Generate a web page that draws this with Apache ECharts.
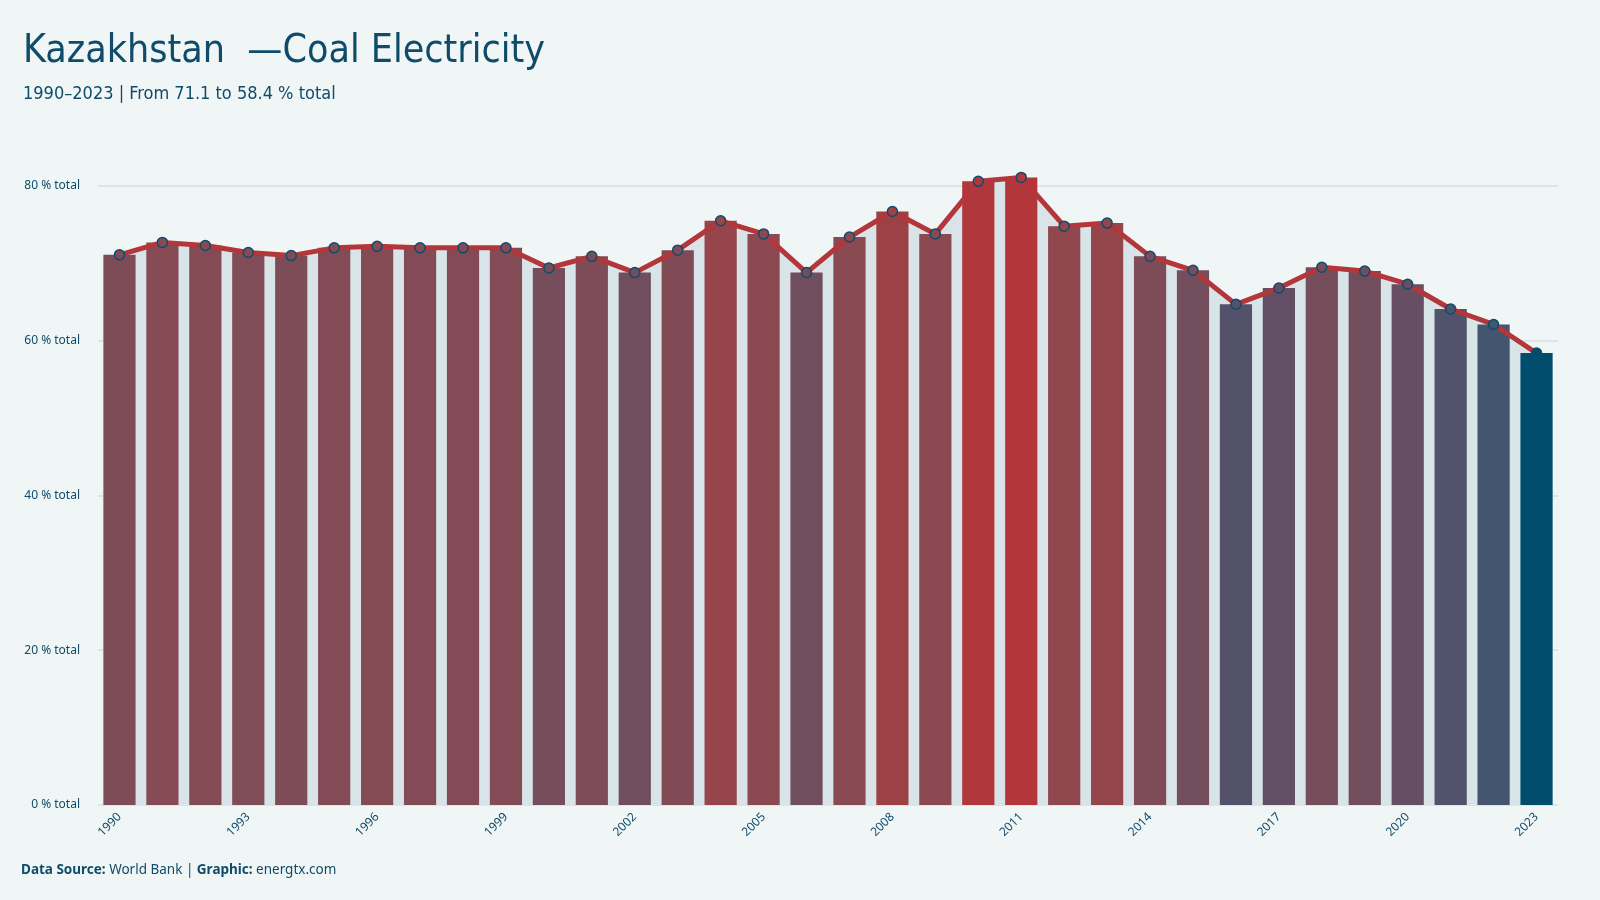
<!DOCTYPE html>
<html>
<head>
<meta charset="utf-8">
<title>Kazakhstan — Coal Electricity</title>
<script src="https://cdn.jsdelivr.net/npm/echarts@6/dist/echarts.min.js"></script>
<style>
  html, body { margin: 0; padding: 0; background: #f0f5f5; }
  #chart { width: 1600px; height: 900px; }
</style>
</head>
<body>
<div id="chart"></div>
<script>
// data
const years = ['1990', '1991', '1992', '1993', '1994', '1995', '1996', '1997', '1998', '1999',
    '2000', '2001', '2002', '2003', '2004', '2005', '2006', '2007', '2008', '2009',
    '2010', '2011', '2012', '2013', '2014', '2015', '2016', '2017', '2018', '2019',
    '2020', '2021', '2022', '2023'];
const coalShare = [71.1, 72.7, 72.3, 71.4, 71.0, 72.0, 72.2, 72.0, 72.0, 72.0,
    69.4, 70.9, 68.8, 71.7, 75.5, 73.8, 68.8, 73.4, 76.7, 73.8,
    80.6, 81.1, 74.8, 75.2, 70.9, 69.1, 64.7, 66.8, 69.5, 69.0,
    67.3, 64.1, 62.1, 58.4];
const yTicks = [0, 20, 40, 60, 80];

// colour ramp: low value -> blue, high value -> red
const ramp = ['#004c6d', '#45556f', '#5c5068', '#784d5a', '#8a4a52', '#a04145', '#b3363a'];
const vMin = Math.min(...coalShare);
const vMax = Math.max(...coalShare);

function hexToRgb(h) {
    return [parseInt(h.slice(1, 3), 16), parseInt(h.slice(3, 5), 16), parseInt(h.slice(5, 7), 16)];
}
function colorFor(v) {
    const t = (v - vMin) / (vMax - vMin) * (ramp.length - 1);
    const i = Math.min(Math.floor(t), ramp.length - 2);
    const f = t - i;
    const a = hexToRgb(ramp[i]), b = hexToRgb(ramp[i + 1]);
    const c = a.map((x, k) => Math.round(x + (b[k] - x) * f));
    return 'rgb(' + c.join(',') + ')';
}

const textColor = '#0f4c6a';
const headFont = "'DejaVu Sans Condensed', 'Roboto', sans-serif";
const chart = echarts.init(document.getElementById('chart'));

const option = {
    backgroundColor: '#f0f5f5',
    textStyle: { fontFamily: 'Noto Sans' },
    title: {
        text: 'Kazakhstan  —Coal Electricity',
        subtext: '1990–2023 | From 71.1 to 58.4 % total',
        left: 18,
        top: 27,
        itemGap: 14,
        textStyle: {
            fontFamily: headFont,
            fontSize: 39,
            fontWeight: 'normal',
            color: textColor
        },
        subtextStyle: {
            fontFamily: headFont,
            fontSize: 18,
            color: textColor
        }
    },
    grid: { left: 98, right: 42, top: 155, bottom: 95 },
    xAxis: {
        type: 'category',
        data: years,
        axisLine: { show: false },
        axisTick: { show: false },
        axisLabel: {
            interval: 2,
            rotate: 45,
            fontSize: 12,
            color: textColor,
            margin: 10
        }
    },
    yAxis: {
        type: 'value',
        min: 0,
        max: 84,
        interval: 20,
        axisLine: { show: false },
        axisTick: { show: false },
        axisLabel: {
            fontSize: 12,
            color: textColor,
            margin: 18,
            formatter: v => (yTicks.indexOf(v) >= 0 ? v + ' % total' : '')
        },
        // last colour hides the line drawn at the axis max
        splitLine: {
            lineStyle: {
                color: ['#d6e1e4', '#d6e1e4', '#d6e1e4', '#d6e1e4', '#d6e1e4', 'rgba(0,0,0,0)'],
                width: 1.5
            }
        }
    },
    series: [
        {
            // shaded band under the line, behind the bars
            type: 'line',
            data: coalShare,
            symbol: 'none',
            lineStyle: { width: 0 },
            areaStyle: { color: '#d8e4e8', opacity: 1 },
            z: 1,
            silent: true
        },
        {
            type: 'bar',
            data: coalShare,
            barCategoryGap: '25%',
            itemStyle: { color: p => colorFor(p.value) },
            z: 2
        },
        {
            type: 'line',
            data: coalShare,
            symbol: 'circle',
            symbolSize: 10,
            lineStyle: { color: '#b3363a', width: 5 },
            itemStyle: {
                color: p => colorFor(p.value),
                borderColor: '#0d4d6d',
                borderWidth: 1.5
            },
            z: 3
        }
    ],
    graphic: [
        {
            type: 'text',
            left: 21,
            top: 863,
            style: {
                text: '{b|Data Source:} World Bank | {b|Graphic:} energtx.com',
                fill: textColor,
                fontFamily: 'Noto Sans',
                fontSize: 13.5,
                rich: {
                    b: { fontWeight: 'bold', fontFamily: 'Noto Sans', fontSize: 13.5, fill: textColor }
                }
            }
        }
    ]
};

chart.setOption(option);
</script>
</body>
</html>
